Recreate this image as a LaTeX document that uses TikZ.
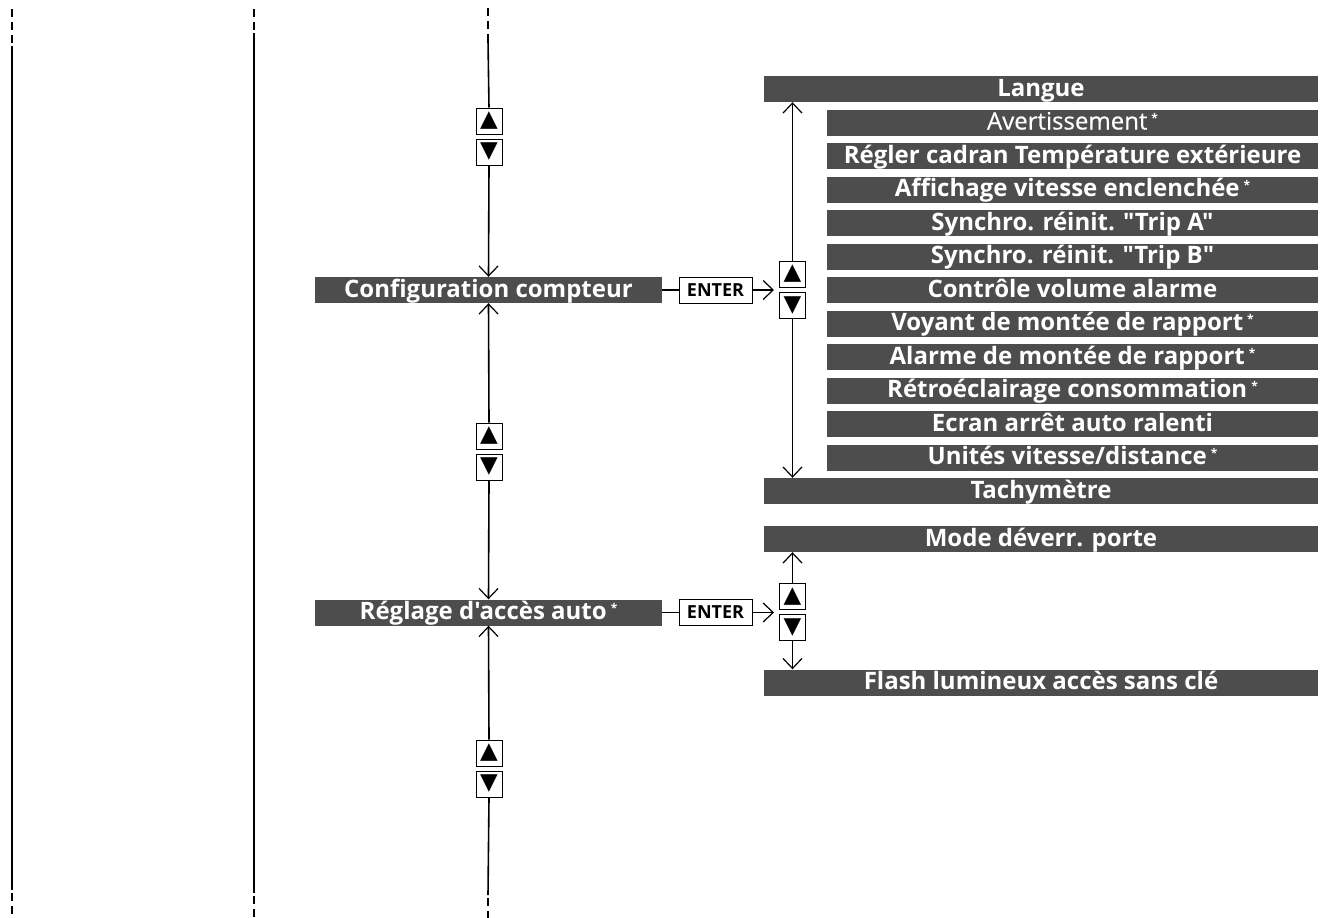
\documentclass[tikz,border=0pt]{standalone}
\usepackage{fontspec}
\setmainfont{Open Sans}[Ligatures=TeXOff]
\newfontfamily\medfont{Open Sans}[FakeBold=0.5]
\newfontfamily\symfont{DejaVu Sans}
\usetikzlibrary{arrows.meta}
\definecolor{bargray}{RGB}{77,77,77}
\newcommand{\starmark}{\,\raisebox{7pt}{\fontsize{12}{12}\selectfont *}}
\tikzset{
    bar/.style={fill=bargray, text=white, inner sep=0pt, minimum height=26pt,
        text height=18pt, text depth=4pt, font=\fontsize{24}{24}\selectfont\bfseries},
    widebar/.style={bar, minimum width=554pt},
    itembar/.style={bar, minimum width=491pt},
    mainbar/.style={bar, minimum width=347pt},
    keybox/.style={draw, line width=1pt, fill=white, minimum width=26pt, minimum height=26pt,
        inner sep=0pt, font=\symfont\fontsize{23}{23}\selectfont},
    enterbox/.style={draw, line width=1pt, fill=white, minimum width=73pt, minimum height=26pt,
        inner sep=0pt, font=\fontsize{18}{18}\selectfont\bfseries},
    link/.style={line width=1.6pt},
    arr/.style={link, -{Straight Barb[length=10pt,width=19pt,line width=1.2pt]}},
    rail/.style={line width=2pt},
    raildash/.style={rail, dash pattern=on 8pt off 5pt}
}
\begin{document}
\begin{tikzpicture}[x=1pt,y=-1pt]
    \useasboundingbox (0,0) rectangle (1326,918);
    % side rails
    \draw[raildash] (12,9) -- (12,46);
    \draw[rail] (12,46) -- (12,890);
    \draw[raildash] (12,893) -- (12,918);
    \draw[raildash] (254,9) -- (254,33);
    \draw[rail] (254,33) -- (254,893);
    \draw[raildash] (254,896) -- (254,918);
    \draw[raildash] (488,8) -- (488,40);
    \draw[raildash] (488,898) -- (488,918);
    % main menu
    \node[mainbar] (cfg) at (488.5,290) {Configuration compteur};
    \node[mainbar] (acc) at (488.5,612.5) {Réglage d'accès auto\starmark};
    \foreach \k/\y in {a/121,b/436,c/753}
    {
    \node[keybox] (up\k) at (489,\y) {▲};
    \node[keybox] (dn\k) at (489,\y+31) {▼};
    }
    \draw[link] (488,40) -- (upa.north);
    \draw[arr] (dna.south) -- (cfg.north);
    \draw[arr] (upb.north) -- (cfg.south);
    \draw[arr] (dnb.south) -- (acc.north);
    \draw[arr] (upc.north) -- (acc.south);
    \draw[link] (dnc.south) -- (488,895);
    % ENTER keys
    \node[enterbox] (ent1) at (715.5,290) {ENTER};
    \node[enterbox] (ent2) at (715.5,612.5) {ENTER};
    \draw[link] (cfg.east) -- (ent1.west);
    \draw[link] (acc.east) -- (ent2.west);
    % meter setup submenu
    \node[widebar] (lang) at (1041,89) {Langue};
    \foreach \i/\txt in {1/{\medfont\mdseries Avertissement}\starmark,
        2/Régler cadran Température extérieure,
        3/Affichage vitesse enclenchée\starmark,
        4/Synchro. réinit. "Trip A",
        5/Synchro. réinit. "Trip B",
        6/Contrôle volume alarme,
        7/Voyant de montée de rapport\starmark,
        8/Alarme de montée de rapport\starmark,
        9/Rétroéclairage consommation\starmark,
        10/Ecran arrêt auto ralenti,
        11/{Unités vitesse/distance\starmark}}
    \node[itembar] (item\i) at (1072.5,{89+33.5*\i}) {\txt};
    \node[widebar] (tachy) at (1041,491) {Tachymètre};
    \node[keybox] (upr) at (792.5,274) {▲};
    \node[keybox] (dnr) at (792.5,305.5) {▼};
    \draw[arr, shorten >=5pt] (ent1.east) -- (ent1.east -| upr.west);
    \draw[arr] (upr.north) -- (upr.north |- lang.south);
    \draw[arr] (dnr.south) -- (dnr.south |- tachy.north);
    % keyless access submenu
    \node[widebar] (door) at (1041,539) {Mode déverr. porte};
    \node[widebar] (flash) at (1041,682.5) {Flash lumineux accès sans clé};
    \node[keybox] (upk) at (792.5,596.5) {▲};
    \node[keybox] (dnk) at (792.5,627.5) {▼};
    \draw[arr, shorten >=5pt] (ent2.east) -- (ent2.east -| upk.west);
    \draw[arr] (upk.north) -- (upk.north |- door.south);
    \draw[arr] (dnk.south) -- (dnk.south |- flash.north);
\end{tikzpicture}
\end{document}
